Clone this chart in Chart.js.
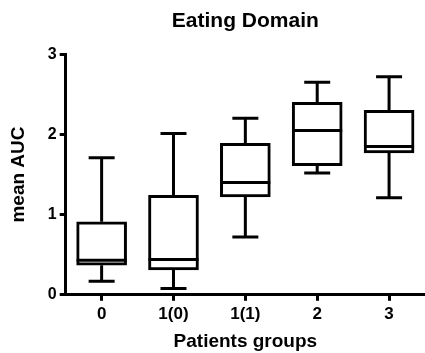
<!DOCTYPE html>
<html>
<head>
<meta charset="utf-8">
<script src="https://cdn.jsdelivr.net/npm/chart.js@4/dist/chart.umd.min.js"></script>
<style>
  html, body { margin: 0; padding: 0; background: #fff; }
  #wrap { width: 425px; height: 353px; }
</style>
</head>
<body>
<div id="wrap"><canvas id="c" width="425" height="353"></canvas></div>
<script>
const categories = ['0', '1(0)', '1(1)', '2', '3'];
const mins    = [0.17, 0.08, 0.72, 1.52, 1.21];
const q1s     = [0.37, 0.31, 1.22, 1.61, 1.77];
const medians = [0.43, 0.44, 1.40, 2.05, 1.85];
const q3s     = [0.91, 1.24, 1.89, 2.40, 2.30];
const maxs    = [1.71, 2.01, 2.20, 2.65, 2.72];
const yTicks  = [0, 1, 2, 3];

const FONT = "'Liberation Sans', Arial, Helvetica, sans-serif";

const whiskerPlugin = {
  id: 'whiskers',
  afterDatasetsDraw(chart) {
    const ctx = chart.ctx;
    const xs = chart.scales.x, ys = chart.scales.y;
    const meta = chart.getDatasetMeta(0);
    ctx.save();
    ctx.strokeStyle = '#000';
    ctx.lineWidth = 3;
    ctx.lineCap = 'butt';
    categories.forEach((c, i) => {
      const x = xs.getPixelForValue(i);
      const half = meta.data[i].width / 2;
      const capHalf = 13;
      const yMin = ys.getPixelForValue(mins[i]);
      const yQ1 = ys.getPixelForValue(q1s[i]);
      const yMed = ys.getPixelForValue(medians[i]);
      const yQ3 = ys.getPixelForValue(q3s[i]);
      const yMax = ys.getPixelForValue(maxs[i]);
      ctx.beginPath();
      ctx.moveTo(x, yQ3); ctx.lineTo(x, yMax);
      ctx.moveTo(x - capHalf, yMax); ctx.lineTo(x + capHalf, yMax);
      ctx.moveTo(x, yQ1); ctx.lineTo(x, yMin);
      ctx.moveTo(x - capHalf, yMin); ctx.lineTo(x + capHalf, yMin);
      ctx.moveTo(x - half, yMed); ctx.lineTo(x + half, yMed);
      ctx.stroke();
    });
    ctx.restore();
  }
};

new Chart(document.getElementById('c'), {
  type: 'bar',
  data: {
    labels: categories,
    datasets: [{
      data: q1s.map((v, i) => [v, q3s[i]]),
      backgroundColor: '#fff',
      borderColor: '#000',
      borderWidth: 3,
      borderSkipped: false,
      barThickness: 50
    }]
  },
  options: {
    responsive: false,
    devicePixelRatio: 1,
    animation: false,
    layout: { padding: { left: 3, right: 0, top: 0, bottom: 0 } },
    plugins: {
      legend: { display: false },
      tooltip: { enabled: false },
      title: {
        display: true,
        text: 'Eating Domain',
        fullSize: false,
        color: '#000',
        font: { family: FONT, size: 21, weight: 'bold' },
        padding: { top: 9, bottom: 20 }
      }
    },
    scales: {
      x: {
        offset: true,
        grid: { display: true, drawOnChartArea: false, drawTicks: true, tickLength: 6, lineWidth: 3, color: '#000', offset: false },
        border: { display: true, width: 3, color: '#000' },
        ticks: { color: '#000', font: { family: FONT, size: 17, weight: 'bold' }, padding: 3, maxRotation: 0 },
        title: { display: true, text: 'Patients groups', color: '#000', font: { family: FONT, size: 19, weight: 'bold' }, padding: { top: 3, bottom: 0 } }
      },
      y: {
        min: 0, max: 3,
        afterBuildTicks(axis) { axis.ticks = yTicks.map(v => ({ value: v })); },
        grid: { display: true, drawOnChartArea: false, drawTicks: true, tickLength: 6, lineWidth: 3, color: '#000' },
        border: { display: true, width: 3, color: '#000' },
        ticks: { color: '#000', font: { family: FONT, size: 16, weight: 'bold' }, padding: 3 },
        title: { display: true, text: 'mean AUC', color: '#000', font: { family: FONT, size: 19, weight: 'bold' }, padding: { top: 4, bottom: 15 } }
      }
    }
  },
  plugins: [whiskerPlugin]
});
</script>
</body>
</html>
